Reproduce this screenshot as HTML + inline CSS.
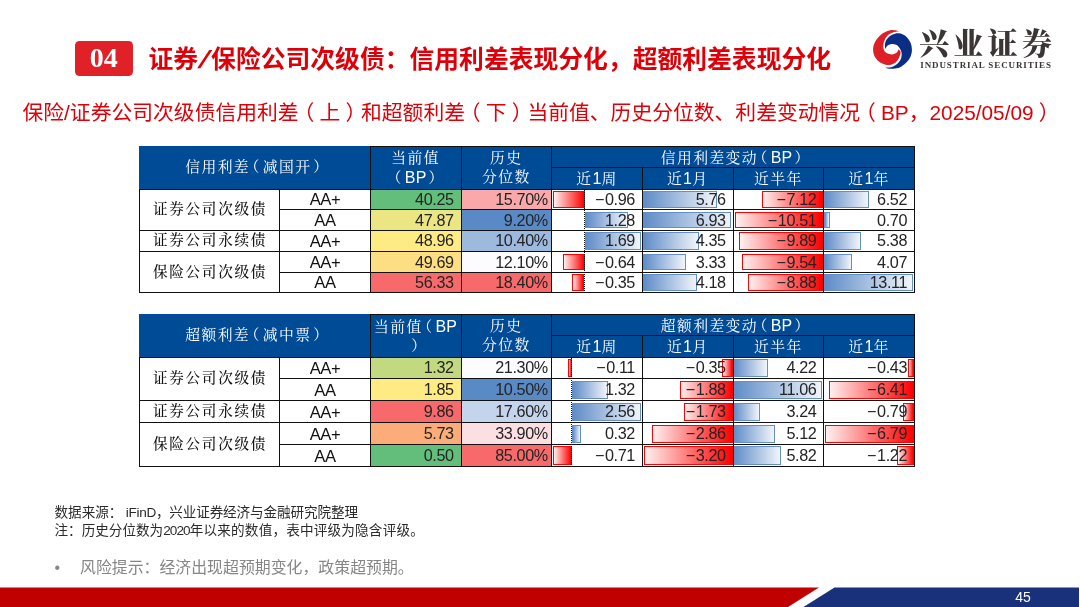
<!DOCTYPE html>
<html lang="zh-CN">
<head>
<meta charset="utf-8">
<title>证券/保险公司次级债：信用利差表现分化，超额利差表现分化</title>
<style>
html,body{margin:0;padding:0;}
body{width:1080px;height:607px;position:relative;overflow:hidden;background:#fff;font-family:"Liberation Sans","Noto Sans CJK SC",sans-serif;}
#slide{position:absolute;left:0;top:0;width:1080px;height:607px;overflow:hidden;background:#fff;}
#slide div{position:absolute;box-sizing:border-box;white-space:nowrap;}
.badge{left:74.8px;top:41px;width:57.8px;height:35px;border-radius:4.5px;background:#E02127;color:#fff;font-family:"Liberation Serif","Noto Serif CJK SC",serif;font-weight:700;font-size:28px;line-height:34.5px;text-align:center;}
.title{left:148.5px;top:41px;height:38px;line-height:38px;font-size:24.8px;font-weight:700;color:#DE0008;font-family:"Liberation Sans","Noto Sans CJK SC",sans-serif;}
.title .sl{display:inline-block;width:13px;text-align:center;transform:scaleX(1.6) skewX(-8deg);font-weight:400;}
.sub{left:22.5px;top:96.6px;height:32px;line-height:32px;font-size:20.8px;color:#DE0008;}
.pl,.pr{font-feature-settings:"halt" 1;display:inline-block;width:1em;text-align:center;}
.hb{background:#004B96;}
.ht{color:#fff;font-family:"Liberation Sans","Noto Serif CJK SC",serif;font-size:14.8px;letter-spacing:1.4px;text-align:center;}
.ht .la{font-size:16px;letter-spacing:0.2px;}
.ht.two{line-height:19.3px;padding-top:2.7px;}
.ht .pl,.ht .pr{width:0.86em;}
.lab{font-family:"Liberation Sans","Noto Serif CJK SC",serif;font-weight:500;font-size:14.6px;letter-spacing:1.7px;padding-left:1.5px;color:#111;text-align:center;background:#fff;}
.rat{font-size:16.6px;letter-spacing:-0.45px;color:#111;text-align:center;background:#fff;}
.num{font-size:16.2px;letter-spacing:-0.38px;color:#242424;text-align:right;}
.mi{margin-right:0.9px;}
.ln{background:#111;}
.axis{width:0;border-left:1px dotted #111;}
.bp{border:1px solid #638EC6;background:linear-gradient(90deg,#5F8CC7 0%,#F1F5FA 100%);}
.bn{border:1px solid #FF0000;background:linear-gradient(90deg,#FFF0F0 0%,#FF0000 100%);}
.fn{left:54.5px;top:504px;font-size:13.58px;line-height:17.5px;color:#2b2b2b;}
.f1{letter-spacing:-0.32px;}.f2{letter-spacing:-0.1px;}.f3{letter-spacing:-0.9px;}.f4{letter-spacing:0.2px;}
.risk{left:54.5px;top:556.5px;font-size:15.9px;line-height:22px;color:#868686;}
.risk .bu{display:inline-block;width:25.5px;}
.pg{left:1000px;top:588px;width:46px;height:19px;line-height:19px;font-size:14px;color:#fff;text-align:center;}
.logo-cn{left:919px;top:23.3px;font-family:"Liberation Serif","Noto Serif CJK SC",serif;font-weight:900;font-size:30px;line-height:42px;letter-spacing:4.3px;color:#3B3536;}
.logo-en{left:920.3px;top:58.7px;font-family:"Liberation Serif","Noto Serif CJK SC",serif;font-weight:700;font-size:9px;line-height:12px;letter-spacing:0.89px;color:#3B3536;}
</style>
</head>
<body>
<div id="slide">
<div class="badge">04</div>
<div class="title">证券<span class="sl">/</span>保险公司次级债：信用利差表现分化，超额利差表现分化</div>
<svg style="position:absolute;left:860px;top:20px" width="70" height="60" viewBox="0 0 700 600">
<path fill="#DD2026" d="M393.0 116.0 C386.8 113.9 368.9 106.1 355.9 103.4 C343.0 100.7 330.6 97.8 315.1 99.7 C299.7 101.5 281.8 105.9 263.2 114.5 C244.7 123.2 221.8 135.5 203.9 151.6 C185.9 167.7 167.8 188.7 155.6 210.9 C143.5 233.2 133.0 260.4 131.2 285.1 C129.3 309.9 134.9 337.7 144.5 359.3 C154.2 381.0 171.7 400.7 189.0 415.0 C206.3 429.2 229.8 438.8 248.4 444.6 C266.9 450.4 284.2 451.7 300.3 449.8 C316.4 448.0 331.8 442.4 344.8 433.5 C357.8 424.6 368.9 410.0 378.2 396.4 C387.5 382.8 395.9 364.9 400.4 351.9 C405.0 338.9 408.1 328.4 405.6 318.5 C403.2 308.6 388.9 296.9 385.6 292.6 C382.5 298.1 378.2 317.0 367.1 325.9 C355.9 334.8 335.5 345.1 318.8 346.0 C302.2 346.8 280.3 339.4 266.9 331.1 C253.6 322.8 244.3 310.1 238.7 296.3 C233.2 282.4 231.9 264.7 233.5 248.0 C235.1 231.4 240.9 211.9 248.4 196.1 C255.8 180.3 265.7 164.7 278.0 153.1 C290.4 141.5 309.0 132.3 322.6 126.4 C336.2 120.4 347.9 119.2 359.6 117.5 C371.4 115.7 387.5 116.2 393.0 116.0 Z"/>
<path fill="#0A2E86" d="M252.1 474.3 C258.9 476.4 276.2 485.1 292.9 486.9 C309.6 488.8 332.4 488.8 352.2 485.4 C372.0 482.1 391.8 478.0 411.6 466.9 C431.4 455.8 454.8 436.6 470.9 418.7 C487.0 400.7 500.0 380.3 508.0 359.3 C516.0 338.3 519.8 314.8 519.1 292.6 C518.5 270.3 513.6 246.8 504.3 225.8 C495.0 204.8 480.2 181.5 463.5 166.4 C446.8 151.4 423.3 140.2 404.2 135.3 C385.0 130.3 366.4 132.2 348.5 136.8 C330.6 141.3 311.1 151.6 296.6 162.7 C282.1 173.9 269.8 189.3 261.7 203.5 C253.7 217.7 250.0 233.8 248.4 248.0 C246.8 262.3 251.5 282.0 252.1 288.8 C256.2 283.0 265.8 262.3 276.6 254.0 C287.3 245.7 302.5 240.1 316.6 239.1 C330.7 238.2 348.0 241.4 361.1 248.0 C374.2 254.7 386.2 266.2 395.3 279.2 C404.3 292.2 412.6 308.9 415.3 325.9 C418.0 343.0 416.5 365.1 411.6 381.6 C406.6 398.0 397.4 411.6 385.6 424.6 C373.9 437.6 355.9 451.2 341.1 459.5 C326.3 467.7 311.4 471.8 296.6 474.3 C281.8 476.8 259.5 474.3 252.1 474.3 Z"/>
</svg>
<div class="logo-cn">兴业证券</div>
<div class="logo-en">INDUSTRIAL SECURITIES</div>
<div class="sub">保险/证券公司次级债信用利差<span class="pl">（</span>上<span class="pr">）</span>和超额利差<span class="pl">（</span>下<span class="pr">）</span>当前值、历史分位数、利差变动情况<span class="pl">（</span>BP，2025/05/09<span class="pr">）</span></div>
<div class="hb" style="left:139px;top:146px;width:775.9px;height:43.2px"></div>
<div class="ht" style="left:139px;top:146px;width:231.3px;height:43.2px;line-height:43.2px">信用利差<span class="pl">（</span>减国开<span class="pr">）</span></div>
<div class="ht two" style="left:370.3px;top:146px;width:90.69999999999999px;height:43.2px">当前值<br><span class="pl">（</span><span class="la">BP</span><span class="pr">）</span></div>
<div class="ht two" style="left:461px;top:146px;width:90.60000000000002px;height:43.2px">历史<br>分位数</div>
<div class="ht" style="left:551.6px;top:146px;width:362.79999999999995px;height:21.6px;line-height:23.6px">信用利差变动<span class="pl">（</span><span class="la">BP</span><span class="pr">）</span></div>
<div class="ht" style="left:551.6px;top:167.6px;width:90.69999999999993px;height:21.6px;line-height:22.6px">近<span class="la">1</span>周</div>
<div class="ht" style="left:642.3px;top:167.6px;width:90.70000000000005px;height:21.6px;line-height:22.6px">近<span class="la">1</span>月</div>
<div class="ht" style="left:733px;top:167.6px;width:90.70000000000005px;height:21.6px;line-height:22.6px">近半年</div>
<div class="ht" style="left:823.7px;top:167.6px;width:90.69999999999993px;height:21.6px;line-height:22.6px">近<span class="la">1</span>年</div>
<div class="lab" style="left:139px;top:189.2px;width:140.5px;height:41.0px;line-height:41.0px">证券公司次级债</div>
<div class="lab" style="left:139px;top:230.2px;width:140.5px;height:21.600000000000023px;line-height:21.600000000000023px">证券公司永续债</div>
<div class="lab" style="left:139px;top:251.8px;width:140.5px;height:40.80000000000001px;line-height:40.80000000000001px">保险公司次级债</div>
<div class="rat" style="left:279.5px;top:189.2px;width:90.80000000000001px;height:20.5px;line-height:22.5px">AA+</div>
<div class="num" style="left:370.3px;top:189.2px;width:90.69999999999999px;height:20.5px;line-height:20.1px;background:#63BE7B;padding-right:7.3px">40.25</div>
<div class="num" style="left:461px;top:189.2px;width:90.60000000000002px;height:20.5px;line-height:20.1px;background:#FAA8AA;padding-right:3.8px">15.70%</div>
<div class="rat" style="left:279.5px;top:209.7px;width:90.80000000000001px;height:20.5px;line-height:22.5px">AA</div>
<div class="num" style="left:370.3px;top:209.7px;width:90.69999999999999px;height:20.5px;line-height:20.1px;background:#EBE583;padding-right:7.3px">47.87</div>
<div class="num" style="left:461px;top:209.7px;width:90.60000000000002px;height:20.5px;line-height:20.1px;background:#5A8AC6;padding-right:3.8px">9.20%</div>
<div class="rat" style="left:279.5px;top:230.2px;width:90.80000000000001px;height:21.600000000000023px;line-height:23.600000000000023px">AA+</div>
<div class="num" style="left:370.3px;top:230.2px;width:90.69999999999999px;height:21.600000000000023px;line-height:21.2px;background:#FFEB84;padding-right:7.3px">48.96</div>
<div class="num" style="left:461px;top:230.2px;width:90.60000000000002px;height:21.600000000000023px;line-height:21.2px;background:#9DB9DE;padding-right:3.8px">10.40%</div>
<div class="rat" style="left:279.5px;top:251.8px;width:90.80000000000001px;height:20.399999999999977px;line-height:22.399999999999977px">AA+</div>
<div class="num" style="left:370.3px;top:251.8px;width:90.69999999999999px;height:20.399999999999977px;line-height:20.0px;background:#FEDE82;padding-right:7.3px">49.69</div>
<div class="num" style="left:461px;top:251.8px;width:90.60000000000002px;height:20.399999999999977px;line-height:20.0px;background:#FCFCFF;padding-right:3.8px">12.10%</div>
<div class="rat" style="left:279.5px;top:272.2px;width:90.80000000000001px;height:20.400000000000034px;line-height:22.400000000000034px">AA</div>
<div class="num" style="left:370.3px;top:272.2px;width:90.69999999999999px;height:20.400000000000034px;line-height:20.0px;background:#F8696B;padding-right:7.3px">56.33</div>
<div class="num" style="left:461px;top:272.2px;width:90.60000000000002px;height:20.400000000000034px;line-height:20.0px;background:#F8696B;padding-right:3.8px">18.40%</div>
<div class="bn" style="left:552.6px;top:191.0px;width:32.0px;height:16.8px"></div>
<div class="num nb" style="left:551.6px;top:189.2px;width:90.69999999999993px;height:20.5px;line-height:20.1px;padding-right:7.3px"><span class="mi">−</span>0.96</div>
<div class="bp" style="left:584.6px;top:211.5px;width:43.4px;height:16.8px"></div>
<div class="num nb" style="left:551.6px;top:209.7px;width:90.69999999999993px;height:20.5px;line-height:20.1px;padding-right:7.3px">1.28</div>
<div class="bp" style="left:584.6px;top:232.0px;width:56.2px;height:17.9px"></div>
<div class="num nb" style="left:551.6px;top:230.2px;width:90.69999999999993px;height:21.600000000000023px;line-height:21.2px;padding-right:7.3px">1.69</div>
<div class="bn" style="left:562.5px;top:253.6px;width:22.1px;height:16.7px"></div>
<div class="num nb" style="left:551.6px;top:251.8px;width:90.69999999999993px;height:20.399999999999977px;line-height:20.0px;padding-right:7.3px"><span class="mi">−</span>0.64</div>
<div class="bn" style="left:572.1px;top:274.0px;width:12.4px;height:16.7px"></div>
<div class="num nb" style="left:551.6px;top:272.2px;width:90.69999999999993px;height:20.400000000000034px;line-height:20.0px;padding-right:7.3px"><span class="mi">−</span>0.35</div>
<div class="axis" style="left:583.7px;top:189.2px;height:103.40000000000003px"></div>
<div class="bp" style="left:642.6px;top:191.0px;width:74.7px;height:16.8px"></div>
<div class="num nb" style="left:642.3px;top:189.2px;width:90.70000000000005px;height:20.5px;line-height:20.1px;padding-right:7.3px">5.76</div>
<div class="bp" style="left:642.6px;top:211.5px;width:88.9px;height:16.8px"></div>
<div class="num nb" style="left:642.3px;top:209.7px;width:90.70000000000005px;height:20.5px;line-height:20.1px;padding-right:7.3px">6.93</div>
<div class="bp" style="left:642.6px;top:232.0px;width:56.6px;height:17.9px"></div>
<div class="num nb" style="left:642.3px;top:230.2px;width:90.70000000000005px;height:21.600000000000023px;line-height:21.2px;padding-right:7.3px">4.35</div>
<div class="bp" style="left:642.6px;top:253.6px;width:43.5px;height:16.7px"></div>
<div class="num nb" style="left:642.3px;top:251.8px;width:90.70000000000005px;height:20.399999999999977px;line-height:20.0px;padding-right:7.3px">3.33</div>
<div class="bp" style="left:642.6px;top:274.0px;width:54.4px;height:16.7px"></div>
<div class="num nb" style="left:642.3px;top:272.2px;width:90.70000000000005px;height:20.400000000000034px;line-height:20.0px;padding-right:7.3px">4.18</div>
<div class="bn" style="left:762.4px;top:191.0px;width:61.0px;height:16.8px"></div>
<div class="num nb" style="left:733px;top:189.2px;width:90.70000000000005px;height:20.5px;line-height:20.1px;padding-right:7.3px"><span class="mi">−</span>7.12</div>
<div class="bn" style="left:734.5px;top:211.5px;width:88.9px;height:16.8px"></div>
<div class="num nb" style="left:733px;top:209.7px;width:90.70000000000005px;height:20.5px;line-height:20.1px;padding-right:7.3px"><span class="mi">−</span>10.51</div>
<div class="bn" style="left:738.9px;top:232.0px;width:84.5px;height:17.9px"></div>
<div class="num nb" style="left:733px;top:230.2px;width:90.70000000000005px;height:21.600000000000023px;line-height:21.2px;padding-right:7.3px"><span class="mi">−</span>9.89</div>
<div class="bn" style="left:741.9px;top:253.6px;width:81.5px;height:16.7px"></div>
<div class="num nb" style="left:733px;top:251.8px;width:90.70000000000005px;height:20.399999999999977px;line-height:20.0px;padding-right:7.3px"><span class="mi">−</span>9.54</div>
<div class="bn" style="left:747.5px;top:274.0px;width:75.9px;height:16.7px"></div>
<div class="num nb" style="left:733px;top:272.2px;width:90.70000000000005px;height:20.400000000000034px;line-height:20.0px;padding-right:7.3px"><span class="mi">−</span>8.88</div>
<div class="bp" style="left:824.0px;top:191.0px;width:45.0px;height:16.8px"></div>
<div class="num nb" style="left:823.7px;top:189.2px;width:90.69999999999993px;height:20.5px;line-height:20.1px;padding-right:7.3px">6.52</div>
<div class="bp" style="left:824.0px;top:211.5px;width:5.5px;height:16.8px"></div>
<div class="num nb" style="left:823.7px;top:209.7px;width:90.69999999999993px;height:20.5px;line-height:20.1px;padding-right:7.3px">0.70</div>
<div class="bp" style="left:824.0px;top:232.0px;width:37.3px;height:17.9px"></div>
<div class="num nb" style="left:823.7px;top:230.2px;width:90.69999999999993px;height:21.600000000000023px;line-height:21.2px;padding-right:7.3px">5.38</div>
<div class="bp" style="left:824.0px;top:253.6px;width:28.4px;height:16.7px"></div>
<div class="num nb" style="left:823.7px;top:251.8px;width:90.69999999999993px;height:20.399999999999977px;line-height:20.0px;padding-right:7.3px">4.07</div>
<div class="bp" style="left:824.0px;top:274.0px;width:88.9px;height:16.7px"></div>
<div class="num nb" style="left:823.7px;top:272.2px;width:90.69999999999993px;height:20.400000000000034px;line-height:20.0px;padding-right:7.3px">13.11</div>
<div class="ln" style="left:370.3px;top:145.5px;width:544.0999999999999px;height:1px"></div>
<div class="ln" style="left:551.6px;top:167.1px;width:362.79999999999995px;height:1px"></div>
<div class="ln" style="left:139px;top:188.7px;width:775.4px;height:1px"></div>
<div class="ln" style="left:369.8px;top:146px;width:1px;height:43.19999999999999px"></div>
<div class="ln" style="left:460.5px;top:146px;width:1px;height:43.19999999999999px"></div>
<div class="ln" style="left:551.1px;top:146px;width:1px;height:43.19999999999999px"></div>
<div class="ln" style="left:641.8px;top:167.6px;width:1px;height:21.599999999999994px"></div>
<div class="ln" style="left:732.5px;top:167.6px;width:1px;height:21.599999999999994px"></div>
<div class="ln" style="left:823.2px;top:167.6px;width:1px;height:21.599999999999994px"></div>
<div class="ln" style="left:913.9px;top:146px;width:1px;height:43.19999999999999px"></div>
<div class="ln" style="left:138.5px;top:189.2px;width:1px;height:103.40000000000003px"></div>
<div class="ln" style="left:279.0px;top:189.2px;width:1px;height:103.40000000000003px"></div>
<div class="ln" style="left:369.8px;top:189.2px;width:1px;height:103.40000000000003px"></div>
<div class="ln" style="left:460.5px;top:189.2px;width:1px;height:103.40000000000003px"></div>
<div class="ln" style="left:551.1px;top:189.2px;width:1px;height:103.40000000000003px"></div>
<div class="ln" style="left:641.8px;top:189.2px;width:1px;height:103.40000000000003px"></div>
<div class="ln" style="left:732.5px;top:189.2px;width:1px;height:103.40000000000003px"></div>
<div class="ln" style="left:823.2px;top:189.2px;width:1px;height:103.40000000000003px"></div>
<div class="ln" style="left:913.9px;top:189.2px;width:1px;height:103.40000000000003px"></div>
<div class="ln" style="left:279.5px;top:209.2px;width:634.9px;height:1px"></div>
<div class="ln" style="left:139px;top:229.7px;width:775.4px;height:1px"></div>
<div class="ln" style="left:139px;top:251.3px;width:775.4px;height:1px"></div>
<div class="ln" style="left:279.5px;top:271.7px;width:634.9px;height:1px"></div>
<div class="ln" style="left:139px;top:292.1px;width:775.4px;height:1px"></div>
<div class="hb" style="left:139px;top:314px;width:775.9px;height:43px"></div>
<div class="ht" style="left:139px;top:314px;width:231.3px;height:43px;line-height:43px">超额利差<span class="pl">（</span>减中票<span class="pr">）</span></div>
<div class="ht two" style="left:370.3px;top:314px;width:90.69999999999999px;height:43px">当前值<span class="pl">（</span><span class="la">BP</span><br><span class="pr">）</span></div>
<div class="ht two" style="left:461px;top:314px;width:90.60000000000002px;height:43px">历史<br>分位数</div>
<div class="ht" style="left:551.6px;top:314px;width:362.79999999999995px;height:21.5px;line-height:23.5px">超额利差变动<span class="pl">（</span><span class="la">BP</span><span class="pr">）</span></div>
<div class="ht" style="left:551.6px;top:335.5px;width:90.69999999999993px;height:21.5px;line-height:22.5px">近<span class="la">1</span>周</div>
<div class="ht" style="left:642.3px;top:335.5px;width:90.70000000000005px;height:21.5px;line-height:22.5px">近<span class="la">1</span>月</div>
<div class="ht" style="left:733px;top:335.5px;width:90.70000000000005px;height:21.5px;line-height:22.5px">近半年</div>
<div class="ht" style="left:823.7px;top:335.5px;width:90.69999999999993px;height:21.5px;line-height:22.5px">近<span class="la">1</span>年</div>
<div class="lab" style="left:139px;top:357px;width:140.5px;height:43.80000000000001px;line-height:43.80000000000001px">证券公司次级债</div>
<div class="lab" style="left:139px;top:400.8px;width:140.5px;height:21.899999999999977px;line-height:21.899999999999977px">证券公司永续债</div>
<div class="lab" style="left:139px;top:422.7px;width:140.5px;height:43.80000000000001px;line-height:43.80000000000001px">保险公司次级债</div>
<div class="rat" style="left:279.5px;top:357px;width:90.80000000000001px;height:21.899999999999977px;line-height:23.899999999999977px">AA+</div>
<div class="num" style="left:370.3px;top:357px;width:90.69999999999999px;height:21.899999999999977px;line-height:21.5px;background:#C2D980;padding-right:7.3px">1.32</div>
<div class="num" style="left:461px;top:357px;width:90.60000000000002px;height:21.899999999999977px;line-height:21.5px;background:#FCFCFF;padding-right:3.8px">21.30%</div>
<div class="rat" style="left:279.5px;top:378.9px;width:90.80000000000001px;height:21.900000000000034px;line-height:23.900000000000034px">AA</div>
<div class="num" style="left:370.3px;top:378.9px;width:90.69999999999999px;height:21.900000000000034px;line-height:21.5px;background:#FFEB84;padding-right:7.3px">1.85</div>
<div class="num" style="left:461px;top:378.9px;width:90.60000000000002px;height:21.900000000000034px;line-height:21.5px;background:#5A8AC6;padding-right:3.8px">10.50%</div>
<div class="rat" style="left:279.5px;top:400.8px;width:90.80000000000001px;height:21.899999999999977px;line-height:23.899999999999977px">AA+</div>
<div class="num" style="left:370.3px;top:400.8px;width:90.69999999999999px;height:21.899999999999977px;line-height:21.5px;background:#F8696B;padding-right:7.3px">9.86</div>
<div class="num" style="left:461px;top:400.8px;width:90.60000000000002px;height:21.899999999999977px;line-height:21.5px;background:#C4D5EB;padding-right:3.8px">17.60%</div>
<div class="rat" style="left:279.5px;top:422.7px;width:90.80000000000001px;height:21.900000000000034px;line-height:23.900000000000034px">AA+</div>
<div class="num" style="left:370.3px;top:422.7px;width:90.69999999999999px;height:21.900000000000034px;line-height:21.5px;background:#FCAC78;padding-right:7.3px">5.73</div>
<div class="num" style="left:461px;top:422.7px;width:90.60000000000002px;height:21.900000000000034px;line-height:21.5px;background:#FBDFE2;padding-right:3.8px">33.90%</div>
<div class="rat" style="left:279.5px;top:444.6px;width:90.80000000000001px;height:21.899999999999977px;line-height:23.899999999999977px">AA</div>
<div class="num" style="left:370.3px;top:444.6px;width:90.69999999999999px;height:21.899999999999977px;line-height:21.5px;background:#63BE7B;padding-right:7.3px">0.50</div>
<div class="num" style="left:461px;top:444.6px;width:90.60000000000002px;height:21.899999999999977px;line-height:21.5px;background:#F8696B;padding-right:3.8px">85.00%</div>
<div class="bn" style="left:568.0px;top:358.8px;width:3.8px;height:18.2px"></div>
<div class="num nb" style="left:551.6px;top:357px;width:90.69999999999993px;height:21.899999999999977px;line-height:21.5px;padding-right:7.3px"><span class="mi">−</span>0.11</div>
<div class="bp" style="left:571.8px;top:380.7px;width:36.4px;height:18.2px"></div>
<div class="num nb" style="left:551.6px;top:378.9px;width:90.69999999999993px;height:21.900000000000034px;line-height:21.5px;padding-right:7.3px">1.32</div>
<div class="bp" style="left:571.8px;top:402.6px;width:69.0px;height:18.2px"></div>
<div class="num nb" style="left:551.6px;top:400.8px;width:90.69999999999993px;height:21.899999999999977px;line-height:21.5px;padding-right:7.3px">2.56</div>
<div class="bp" style="left:571.8px;top:424.5px;width:9.4px;height:18.2px"></div>
<div class="num nb" style="left:551.6px;top:422.7px;width:90.69999999999993px;height:21.900000000000034px;line-height:21.5px;padding-right:7.3px">0.32</div>
<div class="bn" style="left:552.6px;top:446.4px;width:19.2px;height:18.2px"></div>
<div class="num nb" style="left:551.6px;top:444.6px;width:90.69999999999993px;height:21.899999999999977px;line-height:21.5px;padding-right:7.3px"><span class="mi">−</span>0.71</div>
<div class="axis" style="left:570.9px;top:357px;height:109.5px"></div>
<div class="bn" style="left:722.2px;top:358.8px;width:10.5px;height:18.2px"></div>
<div class="num nb" style="left:642.3px;top:357px;width:90.70000000000005px;height:21.899999999999977px;line-height:21.5px;padding-right:7.3px"><span class="mi">−</span>0.35</div>
<div class="bn" style="left:679.7px;top:380.7px;width:53.0px;height:18.2px"></div>
<div class="num nb" style="left:642.3px;top:378.9px;width:90.70000000000005px;height:21.900000000000034px;line-height:21.5px;padding-right:7.3px"><span class="mi">−</span>1.88</div>
<div class="bn" style="left:683.8px;top:402.6px;width:48.9px;height:18.2px"></div>
<div class="num nb" style="left:642.3px;top:400.8px;width:90.70000000000005px;height:21.899999999999977px;line-height:21.5px;padding-right:7.3px"><span class="mi">−</span>1.73</div>
<div class="bn" style="left:652.4px;top:424.5px;width:80.3px;height:18.2px"></div>
<div class="num nb" style="left:642.3px;top:422.7px;width:90.70000000000005px;height:21.900000000000034px;line-height:21.5px;padding-right:7.3px"><span class="mi">−</span>2.86</div>
<div class="bn" style="left:643.8px;top:446.4px;width:88.9px;height:18.2px"></div>
<div class="num nb" style="left:642.3px;top:444.6px;width:90.70000000000005px;height:21.899999999999977px;line-height:21.5px;padding-right:7.3px"><span class="mi">−</span>3.20</div>
<div class="bp" style="left:733.3px;top:358.8px;width:34.7px;height:18.2px"></div>
<div class="num nb" style="left:733px;top:357px;width:90.70000000000005px;height:21.899999999999977px;line-height:21.5px;padding-right:7.3px">4.22</div>
<div class="bp" style="left:733.3px;top:380.7px;width:88.9px;height:18.2px"></div>
<div class="num nb" style="left:733px;top:378.9px;width:90.70000000000005px;height:21.900000000000034px;line-height:21.5px;padding-right:7.3px">11.06</div>
<div class="bp" style="left:733.3px;top:402.6px;width:26.8px;height:18.2px"></div>
<div class="num nb" style="left:733px;top:400.8px;width:90.70000000000005px;height:21.899999999999977px;line-height:21.5px;padding-right:7.3px">3.24</div>
<div class="bp" style="left:733.3px;top:424.5px;width:42.0px;height:18.2px"></div>
<div class="num nb" style="left:733px;top:422.7px;width:90.70000000000005px;height:21.900000000000034px;line-height:21.5px;padding-right:7.3px">5.12</div>
<div class="bp" style="left:733.3px;top:446.4px;width:47.6px;height:18.2px"></div>
<div class="num nb" style="left:733px;top:444.6px;width:90.70000000000005px;height:21.899999999999977px;line-height:21.5px;padding-right:7.3px">5.82</div>
<div class="bn" style="left:907.7px;top:358.8px;width:6.4px;height:18.2px"></div>
<div class="num nb" style="left:823.7px;top:357px;width:90.69999999999993px;height:21.899999999999977px;line-height:21.5px;padding-right:7.3px"><span class="mi">−</span>0.43</div>
<div class="bn" style="left:829.4px;top:380.7px;width:84.7px;height:18.2px"></div>
<div class="num nb" style="left:823.7px;top:378.9px;width:90.69999999999993px;height:21.900000000000034px;line-height:21.5px;padding-right:7.3px"><span class="mi">−</span>6.41</div>
<div class="bn" style="left:903.0px;top:402.6px;width:11.1px;height:18.2px"></div>
<div class="num nb" style="left:823.7px;top:400.8px;width:90.69999999999993px;height:21.899999999999977px;line-height:21.5px;padding-right:7.3px"><span class="mi">−</span>0.79</div>
<div class="bn" style="left:825.2px;top:424.5px;width:88.9px;height:18.2px"></div>
<div class="num nb" style="left:823.7px;top:422.7px;width:90.69999999999993px;height:21.900000000000034px;line-height:21.5px;padding-right:7.3px"><span class="mi">−</span>6.79</div>
<div class="bn" style="left:897.3px;top:446.4px;width:16.8px;height:18.2px"></div>
<div class="num nb" style="left:823.7px;top:444.6px;width:90.69999999999993px;height:21.899999999999977px;line-height:21.5px;padding-right:7.3px"><span class="mi">−</span>1.22</div>
<div class="ln" style="left:370.3px;top:313.5px;width:544.0999999999999px;height:1px"></div>
<div class="ln" style="left:551.6px;top:335.0px;width:362.79999999999995px;height:1px"></div>
<div class="ln" style="left:139px;top:356.5px;width:775.4px;height:1px"></div>
<div class="ln" style="left:369.8px;top:314px;width:1px;height:43px"></div>
<div class="ln" style="left:460.5px;top:314px;width:1px;height:43px"></div>
<div class="ln" style="left:551.1px;top:314px;width:1px;height:43px"></div>
<div class="ln" style="left:641.8px;top:335.5px;width:1px;height:21.5px"></div>
<div class="ln" style="left:732.5px;top:335.5px;width:1px;height:21.5px"></div>
<div class="ln" style="left:823.2px;top:335.5px;width:1px;height:21.5px"></div>
<div class="ln" style="left:913.9px;top:314px;width:1px;height:43px"></div>
<div class="ln" style="left:138.5px;top:357px;width:1px;height:109.5px"></div>
<div class="ln" style="left:279.0px;top:357px;width:1px;height:109.5px"></div>
<div class="ln" style="left:369.8px;top:357px;width:1px;height:109.5px"></div>
<div class="ln" style="left:460.5px;top:357px;width:1px;height:109.5px"></div>
<div class="ln" style="left:551.1px;top:357px;width:1px;height:109.5px"></div>
<div class="ln" style="left:641.8px;top:357px;width:1px;height:109.5px"></div>
<div class="ln" style="left:732.5px;top:357px;width:1px;height:109.5px"></div>
<div class="ln" style="left:823.2px;top:357px;width:1px;height:109.5px"></div>
<div class="ln" style="left:913.9px;top:357px;width:1px;height:109.5px"></div>
<div class="ln" style="left:279.5px;top:378.4px;width:634.9px;height:1px"></div>
<div class="ln" style="left:139px;top:400.3px;width:775.4px;height:1px"></div>
<div class="ln" style="left:139px;top:422.2px;width:775.4px;height:1px"></div>
<div class="ln" style="left:279.5px;top:444.1px;width:634.9px;height:1px"></div>
<div class="ln" style="left:139px;top:466.0px;width:775.4px;height:1px"></div>
<div class="fn">数据来源：<span class="f1"> iFinD，</span><span class="f2">兴业证券经济与金融研究院整理</span><br>注：历史分位数为<span class="f3">2020</span><span class="f4">年以来的数值，表中评级为隐含评级。</span></div>
<div class="risk"><span class="bu">•</span>风险提示：经济出现超预期变化，政策超预期。</div>
<svg style="position:absolute;left:0;top:587px" width="1080" height="20" viewBox="0 0 1080 20">
<polygon points="0,0.4 819,0.4 788,20 0,20" fill="#C00000"/>
<polygon points="834.5,0.5 1079,0.5 1079,20 803.5,20" fill="#19307B"/>
</svg>
<div class="pg">45</div>
</div>
</body>
</html>
